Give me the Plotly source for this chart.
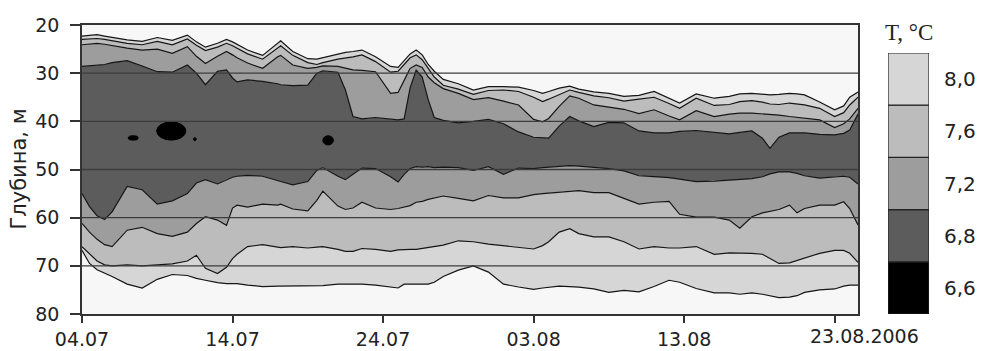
import plotly.graph_objects as go
import pandas as pd

START = "2006-07-04"

# sampling days (days after 04.07.2006)
DAYS = [0, 0.5, 1, 1.5, 2, 3, 4, 5, 6, 7,
        7.6, 8.2, 9, 9.6, 10, 10.3, 11, 12, 13, 13.2,
        14, 15, 15.6, 16, 17, 17.5, 18, 18.6, 19.5, 20.5,
        21, 21.4, 21.8, 22.2, 22.6, 23, 23.4, 24, 25, 26,
        27, 28, 29, 30, 30.6, 31, 31.7, 32.4, 33, 34,
        35, 36, 37, 38, 39, 39.7, 40.8, 42, 43, 43.7,
        44.5, 45.2, 45.7, 46.3, 47, 47.5, 48, 49, 50, 50.6,
        51, 51.55]

# isotherm depths (m), upper part of the cold layer
ISO_84_UP = [22.3, 22.1, 22.0, 22.3, 22.6, 23.1, 23.4, 22.6, 23.2, 22.1,
             23.5, 24.6, 23.8, 23.0, 23.5, 24.0, 25.2, 26.3, 23.8, 23.3,
             25.5, 27.0, 27.1, 26.8, 26.0, 25.7, 25.5, 25.2, 26.6, 28.6,
             28.8, 27.4, 26.0, 25.2, 26.2, 28.2, 29.6, 31.3, 32.2, 33.5,
             32.8, 32.8, 32.9, 33.6, 34.2, 33.8, 33.1, 32.7, 33.3, 33.9,
             34.2, 34.8, 34.6, 33.8, 35.2, 36.2, 34.3, 35.2, 34.8, 34.3,
             34.2, 34.3, 34.5, 34.4, 34.2, 34.3, 34.5, 36.0, 37.6, 36.8,
             35.0, 33.9]
ISO_80_UP = [23.0, 22.9, 22.8, 23.0, 23.3, 23.8, 24.1, 23.4, 24.1, 22.9,
             24.2, 25.3, 24.6, 23.8, 24.3, 24.8, 26.0, 27.1, 24.6, 24.3,
             26.3, 27.8, 28.2, 27.8, 27.1, 26.9, 26.6, 26.2, 27.6, 29.8,
             29.6, 28.2, 26.8, 26.2, 27.2, 29.0, 30.8, 32.5, 33.3, 34.4,
             33.6, 33.5, 33.8, 35.0, 35.9, 35.4, 34.5, 33.5, 34.0, 34.7,
             35.1, 35.8, 35.4, 35.0, 36.3, 37.3, 35.2, 36.7, 36.5, 35.9,
             35.7, 36.0, 36.4, 36.5, 36.2, 36.4, 36.6, 37.3, 39.0, 38.2,
             36.6, 35.0]
ISO_76_UP = [24.1, 23.9, 23.8, 24.0, 24.3, 24.8, 25.2, 25.0, 25.9, 24.5,
             26.5, 28.0, 26.5, 25.5, 26.2, 26.8, 27.9, 29.0, 26.6, 26.3,
             28.3, 29.0, 28.8, 28.5, 28.6, 29.0, 29.3, 29.4, 29.7, 34.2,
             34.0, 31.5, 29.0, 28.3, 28.8, 30.8, 32.0, 33.2, 34.2, 35.5,
             35.1, 35.8, 36.6, 39.6, 40.1, 39.4, 36.9, 34.7, 35.2, 36.6,
             37.1, 37.5, 38.4, 37.6, 38.9, 39.7, 37.8, 39.0, 38.5, 38.3,
             38.3, 38.4, 38.6, 38.7, 39.0, 39.2, 39.4, 39.7, 41.3, 40.5,
             39.5, 37.3]
ISO_72_UP = [28.6, 28.5, 28.4, 28.2, 27.8, 27.4, 28.5, 29.7, 29.8, 28.3,
             30.0, 32.4, 29.6, 29.3, 31.0, 31.8, 31.4, 31.7, 32.2, 32.4,
             32.6, 32.5, 30.0, 29.5, 29.8, 33.5, 39.0, 39.5, 39.2, 39.5,
             39.7, 39.5, 33.0, 29.4, 30.8, 35.5, 39.2, 39.8, 40.3, 40.0,
             39.6, 40.5, 42.2, 43.3, 43.5, 43.5, 41.0, 39.0, 39.9, 41.1,
             40.2, 40.3, 42.0, 42.4, 42.4, 42.1, 41.9, 42.3, 42.6, 42.3,
             42.0, 43.5, 45.6, 43.3, 42.4, 42.4, 42.4, 42.7, 42.8, 42.5,
             41.8, 38.5]
# isotherm depths (m), lower part of the cold layer
ISO_72_LO = [55.0, 57.7, 59.6, 60.4, 58.8, 53.5, 54.2, 57.2, 56.5, 55.0,
             52.8, 52.1, 53.0, 52.1, 51.6, 51.4, 51.2, 51.4, 52.2, 52.5,
             53.2, 52.5, 50.2, 49.6, 51.4, 52.1, 51.0, 49.7, 49.8, 51.5,
             52.6, 51.0, 49.8, 49.4, 49.5, 49.4, 49.6, 49.5, 49.6, 50.2,
             49.4, 51.0, 49.7, 49.8, 49.6, 49.5, 49.3, 49.2, 49.3, 49.6,
             49.8, 50.3, 51.3, 51.5, 51.7, 52.0, 52.5, 52.4, 52.2, 52.2,
             51.9, 51.5, 50.9, 50.5, 50.5, 50.8, 51.3, 51.8, 51.5, 51.4,
             51.6, 53.0]
ISO_76_LO = [61.2, 63.0, 64.5, 65.6, 66.0, 62.6, 62.0, 63.3, 63.9, 63.0,
             61.2, 59.8, 60.5, 61.6, 58.0, 57.4, 57.8, 57.2, 57.4, 57.2,
             58.2, 58.6, 56.4, 54.5, 57.6, 58.3, 58.0, 56.8, 58.0, 58.3,
             58.1, 57.8, 57.5, 56.8, 56.6, 56.2, 55.9, 55.5, 56.0, 56.5,
             55.4, 55.9, 55.9, 55.2, 55.0, 54.9, 54.6, 54.4, 54.4, 54.8,
             54.8, 56.0, 57.2, 56.8, 56.6, 59.3, 59.9, 59.9, 60.5, 62.2,
             59.8, 59.0, 58.7, 58.3, 57.4, 59.0, 58.1, 57.4, 57.4, 56.7,
             58.1, 61.5]
ISO_80_LO = [66.0, 67.6, 69.0, 69.8, 70.0, 69.8, 70.0, 69.8, 69.6, 69.0,
             67.8, 70.5, 71.6, 70.3, 68.5, 67.6, 66.0, 65.6, 66.2, 66.2,
             66.0, 66.3, 66.1, 66.0, 66.6, 67.0, 67.0, 66.4, 66.6, 67.0,
             66.7, 66.6, 66.6, 66.6, 66.4, 66.2, 66.0, 65.7, 64.8, 65.0,
             65.5, 65.8, 66.2, 66.5, 65.8, 65.0, 63.0, 62.3, 63.3, 64.0,
             64.0, 65.0, 66.5, 66.0, 66.3, 66.3, 66.0, 67.6, 67.3, 67.3,
             67.4, 67.6, 68.5, 69.5, 69.4, 68.9, 68.3, 67.4, 66.8, 66.8,
             67.4, 69.3]
ISO_84_LO = [66.8, 69.5, 70.8, 71.5, 72.2, 73.8, 74.6, 72.8, 71.8, 72.0,
             72.6, 73.0, 73.5, 73.7, 73.7, 73.7, 74.0, 74.3, 74.2, 74.2,
             74.1, 74.1, 74.1, 74.1, 73.8, 73.8, 73.8, 73.8, 74.0, 74.4,
             74.6, 73.8, 73.8, 73.8, 73.9, 73.8, 73.4, 72.2, 70.9, 70.0,
             71.3, 73.8, 74.4, 74.9, 74.6, 74.4, 74.2, 74.3, 74.4, 74.8,
             75.5, 75.1, 75.4, 74.3, 73.0, 73.4, 74.7, 75.6, 75.6, 75.9,
             75.6, 75.9, 76.2, 76.6, 76.5, 76.2, 75.5, 75.0, 74.8, 74.2,
             74.0, 74.0]

# cold cores (T < 6.8): centre day, centre depth, half-width (days), half-height (m)
CORE_DAY = [5.93, 3.4, 7.5, 16.35]
CORE_DEPTH = [42.0, 43.45, 43.7, 43.95]
CORE_HALF_DAYS = [0.97, 0.33, 0.09, 0.35]
CORE_HALF_M = [1.9, 0.45, 0.3, 0.95]

TICK_DATES = ["2006-07-04", "2006-07-14", "2006-07-24", "2006-08-03", "2006-08-13", "2006-08-23"]
TICK_TEXT = ["04.07", "14.07", "24.07", "03.08", "13.08", ""]
LAST_TICK_TEXT = "23.08.2006"
DEPTH_TICKS = [20, 30, 40, 50, 60, 70, 80]
GRID_DEPTHS = [30, 40, 50, 60, 70]
LEGEND_LABELS = ["6,6", "6,8", "7,2", "7,6", "8,0"]
LEGEND_COLORS = ["#000000", "#5c5c5c", "#9d9d9d", "#bcbcbc", "#d6d6d6"]

base = pd.Timestamp(START)
xs = [base + pd.Timedelta(days=d) for d in DAYS]

bounds = [ISO_84_UP, ISO_80_UP, ISO_76_UP, ISO_72_UP, ISO_72_LO, ISO_76_LO, ISO_80_LO, ISO_84_LO]
band_colors = [LEGEND_COLORS[4], LEGEND_COLORS[3], LEGEND_COLORS[2], LEGEND_COLORS[1],
               LEGEND_COLORS[2], LEGEND_COLORS[3], LEGEND_COLORS[4]]

fig = go.Figure()

for i in range(len(bounds) - 1):
    up, lo = bounds[i], bounds[i + 1]
    fig.add_trace(go.Scatter(
        x=xs + xs[::-1], y=up + lo[::-1], mode="lines", fill="toself",
        fillcolor=band_colors[i], line=dict(width=0), hoverinfo="skip", showlegend=False))

for b in bounds:
    fig.add_trace(go.Scatter(x=xs, y=b, mode="lines", line=dict(color="#151515", width=1.2),
                             hoverinfo="skip", showlegend=False))

# legend bar
fig.add_trace(go.Bar(x=[0] * 5, y=[1] * 5, base=list(range(5)), width=1,
                     marker=dict(color=LEGEND_COLORS, line=dict(color="#222", width=1.2)),
                     xaxis="x2", yaxis="y2", showlegend=False, hoverinfo="skip"))

shapes = []
for c, z, hd, hm in zip(CORE_DAY, CORE_DEPTH, CORE_HALF_DAYS, CORE_HALF_M):
    shapes.append(dict(type="circle", xref="x", yref="y",
                       x0=base + pd.Timedelta(days=c - hd), x1=base + pd.Timedelta(days=c + hd),
                       y0=z - hm, y1=z + hm, fillcolor="#000", line=dict(color="#000", width=1),
                       layer="above"))
for g in GRID_DEPTHS:
    shapes.append(dict(type="line", xref="x domain", yref="y", x0=0, x1=1, y0=g, y1=g,
                       line=dict(color="#3c3c3c", width=1.3), layer="above"))

W, H = 982, 351
ML, MR, MT, MB = 82, 53, 25, 37
PW = W - ML - MR
PH = H - MT - MB
main_right = 858
cb_left = 888
cb_top = 53

fig.update_layout(
    width=W, height=H, margin=dict(l=ML, r=MR, t=MT, b=MB, autoexpand=False),
    paper_bgcolor="#ffffff", plot_bgcolor="#f7f7f7",
    font=dict(family="DejaVu Sans", color="#222"),
    shapes=shapes,
    xaxis=dict(domain=[0, (main_right - ML) / PW], type="date", automargin=False,
               range=[base, base + pd.Timedelta(days=DAYS[-1])],
               tickvals=TICK_DATES, ticktext=TICK_TEXT, ticks="outside", ticklen=7,
               tickwidth=1.5, tickcolor="#333", showline=True, mirror=True,
               linecolor="#333", linewidth=1.5, showgrid=False, zeroline=False,
               tickfont=dict(size=19, family="DejaVu Sans", color="#222"),
               layer="above traces"),
    yaxis=dict(domain=[0, 1], range=[80, 20], tickvals=DEPTH_TICKS, ticks="outside",
               automargin=False,
               ticklen=10, tickwidth=1.5, tickcolor="#333", showline=True, mirror=True,
               linecolor="#333", linewidth=1.5, showgrid=False, zeroline=False,
               tickfont=dict(size=19, family="DejaVu Sans", color="#222"),
               ticklabelstandoff=7, layer="above traces"),
    xaxis2=dict(domain=[(cb_left - ML) / PW, 1], anchor="y2", range=[-0.5, 0.5],
                visible=False, fixedrange=True, automargin=False),
    yaxis2=dict(domain=[0, (MT + PH - cb_top) / PH], anchor="x2", range=[0, 5],
                automargin=False,
                side="right", tickvals=[0.5, 1.5, 2.5, 3.5, 4.5], ticktext=LEGEND_LABELS,
                ticks="outside", ticklen=10, tickcolor="rgba(0,0,0,0)",
                showgrid=False, zeroline=False, showline=False,
                tickfont=dict(size=20, family="DejaVu Sans", color="#222")),
    annotations=[
        dict(text="Глубина, м", textangle=-90, xref="paper", yref="paper",
             x=(18 - ML) / PW, y=0.5, xanchor="center", yanchor="middle", showarrow=False,
             font=dict(size=21, family="DejaVu Sans", color="#222")),
        dict(text="T, °C", xref="paper", yref="paper", x=(909 - ML) / PW,
             y=(MT + PH - 33) / PH, xanchor="center", yanchor="middle", showarrow=False,
             font=dict(size=23, family="Liberation Serif", color="#222")),
        dict(text=LAST_TICK_TEXT, xref="x", yref="paper", x=TICK_DATES[-1], y=0,
             xanchor="left", yanchor="top", xshift=-27, yshift=-9, showarrow=False,
             font=dict(size=19, family="DejaVu Sans", color="#222")),
    ],
)

fig.write_html("out.html", config={"displayModeBar": False},
               post_script="document.body.style.margin='0';document.body.style.overflow='hidden';")
